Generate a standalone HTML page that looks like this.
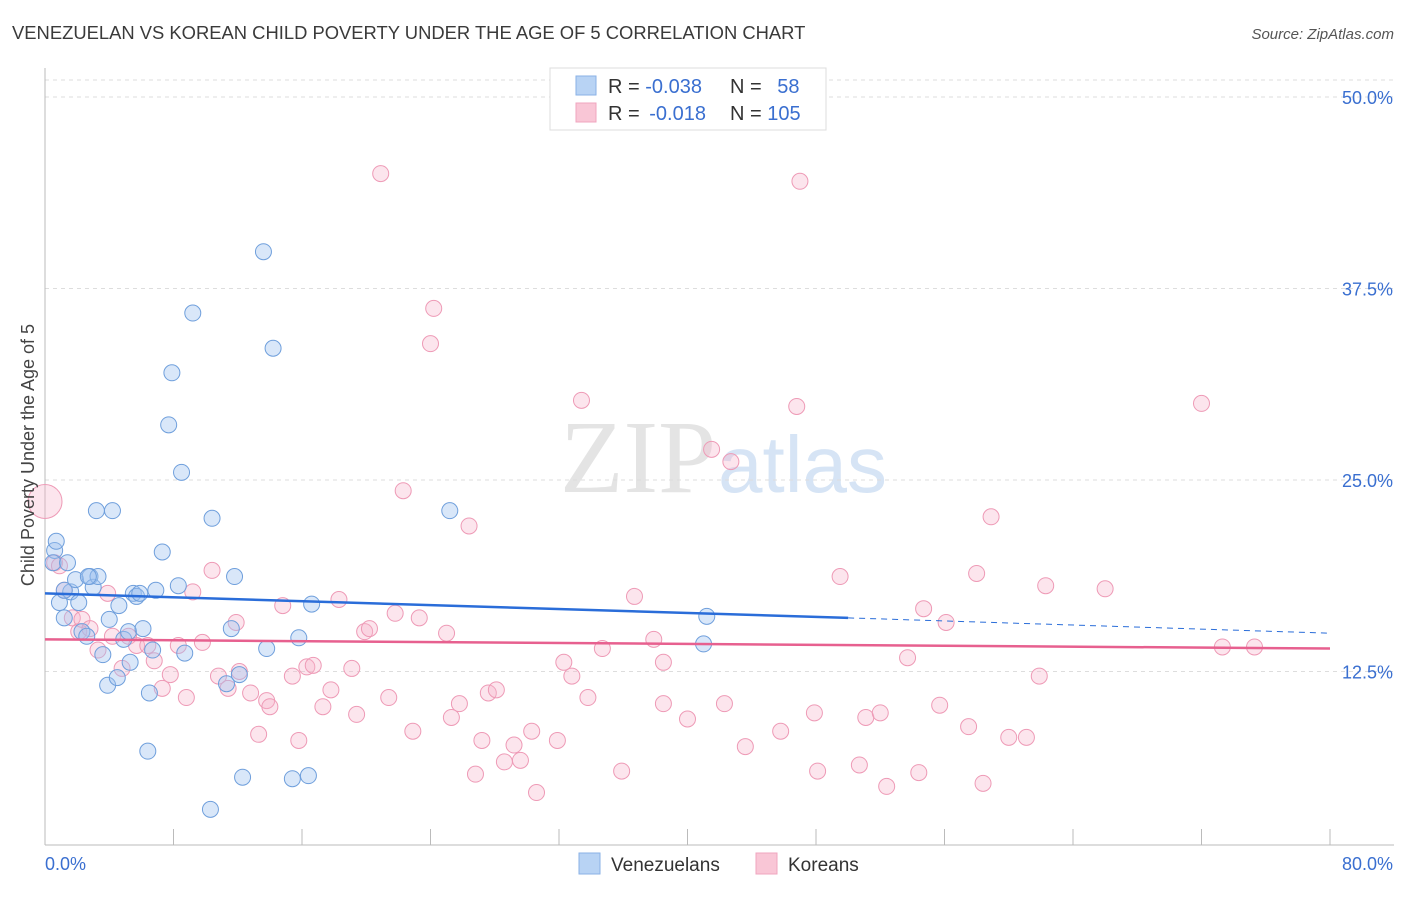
<!DOCTYPE html>
<html><head><meta charset="utf-8"><style>
body{margin:0;background:#fff;font-family:"Liberation Sans",sans-serif;}
</style></head><body>
<svg id="chart" width="1406" height="892" xmlns="http://www.w3.org/2000/svg">
<text x="12" y="39" font-size="18.4" fill="#3a3a3a">VENEZUELAN VS KOREAN CHILD POVERTY UNDER THE AGE OF 5 CORRELATION CHART</text>
<text x="1394" y="39" font-size="15" fill="#555" font-style="italic" text-anchor="end">Source: ZipAtlas.com</text>
<text x="716" y="492" font-size="104" fill="#e4e4e4" text-anchor="end" font-family="Liberation Serif,serif">ZIP</text>
<text x="718" y="492" font-size="80" fill="#d6e4f5">atlas</text>
<g id="grid"></g>
<g id="axes"></g>
<g id="pts"></g>
<g id="trends"></g>
<text transform="translate(34,455) rotate(-90)" font-size="18" fill="#444" text-anchor="middle">Child Poverty Under the Age of 5</text>
<g>
<rect x="550" y="68" width="276" height="62" fill="#fff" stroke="#ddd"/>
<rect x="576" y="76" width="20" height="19" fill="#b8d3f4" stroke="#8ab2e6"/>
<rect x="576" y="103" width="20" height="19" fill="#f9c6d6" stroke="#f0a5bf"/>
<text x="608" y="93" font-size="20" fill="#333">R = <tspan fill="#3a6fd0">-0.038</tspan></text>
<text x="730" y="93" font-size="20" fill="#333">N = <tspan fill="#3a6fd0" dx="10">58</tspan></text>
<text x="608" y="120" font-size="20" fill="#333">R = <tspan fill="#3a6fd0" dx="4">-0.018</tspan></text>
<text x="730" y="120" font-size="20" fill="#333">N = <tspan fill="#3a6fd0">105</tspan></text>
</g>
<g>
<rect x="579" y="853" width="21" height="21" fill="#b8d3f4" stroke="#8ab2e6"/>
<text x="611" y="871" font-size="19" fill="#333">Venezuelans</text>
<rect x="756" y="853" width="21" height="21" fill="#f9c6d6" stroke="#f0a5bf"/>
<text x="788" y="871" font-size="19" fill="#333">Koreans</text>
</g>
</svg>
<script>
const yTicks=[12.5,25,37.5,50];
const yTickLabels=["12.5%","25.0%","37.5%","50.0%"];
const xTicks=[0,8,16,24,32,40,48,56,64,72,80];
const blueX=[0.6,0.7,0.5,0.9,1.2,1.4,1.6,1.9,2.1,2.3,2.6,2.8,3.0,3.3,3.2,4.2,3.6,3.9,4.0,4.5,4.6,4.9,5.2,5.3,5.5,5.7,5.9,6.1,6.5,6.4,6.7,6.9,7.3,7.7,7.9,8.3,8.5,8.7,9.2,10.3,10.4,11.6,11.8,12.1,12.3,13.6,13.8,14.2,15.4,15.8,16.4,16.6,25.2,41.2,41.0,11.3,2.7,1.2];
const blueY=[20.4,21.0,19.6,17.0,16.0,19.6,17.7,18.5,17.0,15.1,14.8,18.7,18.0,18.7,23.0,23.0,13.6,11.6,15.9,12.1,16.8,14.6,15.1,13.1,17.6,17.4,17.6,15.3,11.1,7.3,13.9,17.8,20.3,28.6,32.0,18.1,25.5,13.7,35.9,3.5,22.5,15.3,18.7,12.3,5.6,39.9,14.0,33.6,5.5,14.7,5.7,16.9,23.0,16.1,14.3,11.7,18.7,17.8];
const pinkX=[0,0.6,0.9,1.2,1.7,2.1,2.3,2.8,3.3,3.9,4.2,4.8,5.2,5.7,6.4,6.8,7.3,7.8,8.3,8.8,9.2,9.8,10.4,10.8,11.4,11.9,12.1,12.8,13.3,13.8,14.0,14.8,15.4,15.8,16.3,16.7,17.3,17.8,18.3,19.1,19.4,19.9,20.2,20.9,21.4,21.8,22.3,22.9,23.3,24.0,24.2,25.0,25.3,25.8,26.4,26.8,27.2,27.6,28.1,28.6,29.2,29.6,30.3,30.6,31.9,32.3,32.8,33.4,33.8,34.7,35.9,36.7,37.9,38.5,38.5,40.0,41.5,42.3,42.7,43.6,45.8,46.8,47.0,47.9,48.1,49.5,50.7,51.1,52.0,52.4,53.7,54.4,54.7,55.7,56.1,57.5,58.0,58.4,58.9,60.0,61.1,61.9,62.3,66.0,72.0,73.3,75.3];
const pinkY=[23.6,19.6,19.4,17.8,16.0,15.1,15.9,15.3,13.9,17.6,14.8,12.7,14.8,14.2,14.2,13.2,11.4,12.3,14.2,10.8,17.7,14.4,19.1,12.2,11.4,15.7,12.5,11.1,8.4,10.6,10.2,16.8,12.2,8.0,12.8,12.9,10.2,11.3,17.2,12.7,9.7,15.1,15.3,45.0,10.8,16.3,24.3,8.6,16.0,33.9,36.2,15.0,9.5,10.4,22.0,5.8,8.0,11.1,11.3,6.6,7.7,6.7,8.6,4.6,8.0,13.1,12.2,30.2,10.8,14.0,6.0,17.4,14.6,10.4,13.1,9.4,27.0,10.4,26.2,7.6,8.6,29.8,44.5,9.8,6.0,18.7,6.4,9.5,9.8,5.0,13.4,5.9,16.6,10.3,15.7,8.9,18.9,5.2,22.6,8.2,8.2,12.2,18.1,17.9,30.0,14.1,14.1];
const blueTrend=[17.6,16.0,15.0];
const pinkTrend=[14.6,14.0];
const NS="http://www.w3.org/2000/svg";
const X=v=>45+v/80*1285;
const Y=v=>863-v*15.32;
function mk(tag,attrs,parent){const e=document.createElementNS(NS,tag);for(const k in attrs)e.setAttribute(k,attrs[k]);parent.appendChild(e);return e;}
const grid=document.getElementById('grid'),axes=document.getElementById('axes'),pts=document.getElementById('pts'),tr=document.getElementById('trends');
yTicks.forEach((t,i)=>{
 const l=mk('line',{x1:45,x2:1394,y1:Y(t),y2:Y(t),stroke:'#ddd','stroke-dasharray':'4,4'},grid);
 
 
 const tx=mk('text',{x:1393,y:Y(t)+7,'font-size':18,fill:'#3a6fd0','text-anchor':'end'},axes);
 tx.textContent=yTickLabels[i];
 
 
});
const tl=mk('line',{x1:45,x2:1394,y1:80,y2:80,stroke:'#ddd','stroke-dasharray':'4,4'},grid);
const ya=mk('line',{x1:45,x2:45,y1:68,y2:845,stroke:'#bbb'},axes);


const xa=mk('line',{x1:45,x2:1394,y1:845,y2:845,stroke:'#bbb'},axes);


xTicks.forEach(t=>{const l=mk('line',{x1:X(t),x2:X(t),y1:829,y2:845,stroke:'#bbb'},axes);
 
 });
const x0=mk('text',{x:45,y:870,'font-size':18,fill:'#3a6fd0'},axes);x0.textContent='0.0%';


const x1=mk('text',{x:1393,y:870,'font-size':18,fill:'#3a6fd0','text-anchor':'end'},axes);x1.textContent='80.0%';


pinkX.forEach((v,i)=>{const c=mk('circle',{cx:X(v),cy:Y(pinkY[i]),r:i===0?17:8,fill:'rgba(247,180,203,0.35)',stroke:'#ee9ab6','stroke-width':1},pts);
 
 });
blueX.forEach((v,i)=>{const c=mk('circle',{cx:X(v),cy:Y(blueY[i]),r:8,fill:'rgba(160,195,240,0.4)',stroke:'#6f9fdc','stroke-width':1},pts);
 
 });
const bt=mk('line',{x1:X(0),y1:Y(blueTrend[0]),x2:X(50),y2:Y(blueTrend[1]),stroke:'#2a6dd9','stroke-width':2.5},tr);


const bd=mk('line',{x1:X(50),y1:Y(blueTrend[1]),x2:X(80),y2:Y(blueTrend[2]),stroke:'#2a6dd9','stroke-width':1,'stroke-dasharray':'6,5'},tr);


const pt=mk('line',{x1:X(0),y1:Y(pinkTrend[0]),x2:X(80),y2:Y(pinkTrend[1]),stroke:'#e7608f','stroke-width':2.5},tr);


</script>
</body></html>
